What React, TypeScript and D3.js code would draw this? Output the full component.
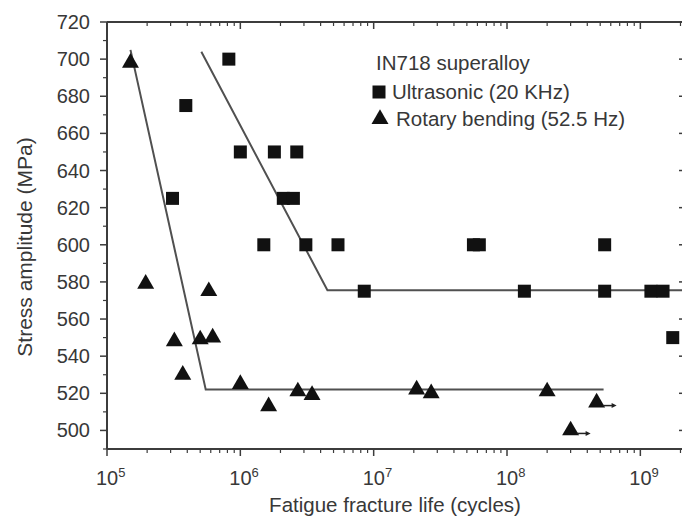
import React from "react";
import * as d3 from "d3";

// Ultrasonic fatigue tests (20 kHz): [cycles, stress MPa]
const ultrasonicCycles = [8.2e5, 3.9e5, 1.0e6, 1.8e6, 2.65e6, 3.1e5, 2.1e6, 2.5e6, 1.5e6, 3.1e6, 5.4e6, 5.6e7, 6.2e7, 5.4e8, 8.5e6, 1.35e8, 5.4e8, 1.2e9, 1.48e9, 2.3e9, 1.75e9];
const ultrasonicStress = [700, 675, 650, 650, 650, 625, 625, 625, 600, 600, 600, 600, 600, 600, 575, 575, 575, 575, 575, 575, 550];

// Rotary bending tests (52.5 Hz)
const rotaryCycles = [1.5e5, 1.95e5, 5.8e5, 3.2e5, 5.0e5, 6.2e5, 3.7e5, 1.0e6, 1.63e6, 2.7e6, 3.45e6, 2.1e7, 2.7e7, 2.0e8, 4.7e8, 3.0e8];
const rotaryStress = [698, 579, 575, 548, 549, 550, 530, 525, 513, 521, 519, 522, 520, 521, 515, 500];
// run-outs (specimens that did not fail) carry an arrow
const rotaryRunout = [false, false, false, false, false, false, false, false, false, false, false, false, false, false, true, true];

// Bilinear S-N fits
const ultrasonicFitCycles = [5.1e5, 4.5e6, 2.3e9];
const ultrasonicFitStress = [704, 575.5, 575.5];
const rotaryFitCycles = [1.5e5, 5.5e5, 5.3e8];
const rotaryFitStress = [705, 522, 522];

const yTicks = [500, 520, 540, 560, 580, 600, 620, 640, 660, 680, 700, 720];
const xDecades = [5, 6, 7, 8, 9];

const legendTitle = "IN718 superalloy";
const legendUltrasonic = "Ultrasonic (20 KHz)";
const legendRotary = "Rotary bending (52.5 Hz)";
const xTitle = "Fatigue fracture life (cycles)";
const yTitle = "Stress amplitude (MPa)";

const W = 682;
const H = 521;
const left = 107;
const right = 686;
const top = 22;
const bottom = 449;

const FONT = "Liberation Sans, Arial, Helvetica, sans-serif";
const TEXT = "#383838";
const AXIS = "#3c3c3c";

export default function App() {
  const x = d3.scaleLog().domain([1e5, 2.2e9]).range([left, right]);
  const y = d3.scaleLinear().domain([490, 720]).range([bottom, top]);

  const line = d3
    .line<[number, number]>()
    .x((d) => x(d[0]))
    .y((d) => y(d[1]));

  const ultrasonicFit = ultrasonicFitCycles.map((c, i) => [c, ultrasonicFitStress[i]] as [number, number]);
  const rotaryFit = rotaryFitCycles.map((c, i) => [c, rotaryFitStress[i]] as [number, number]);

  const tri = d3.symbol().type(d3.symbolTriangle).size(125)() as string;
  const sq = 13;

  // minor ticks on the log axis
  const minorX: number[] = [];
  for (let e = 5; e <= 9; e++) {
    for (let m = 2; m <= 9; m++) {
      const v = m * Math.pow(10, e);
      if (v <= 2.2e9) minorX.push(v);
    }
  }
  const minorY: number[] = [];
  for (let v = 490; v <= 720; v += 10) if (v % 20 !== 0) minorY.push(v);

  return (
    <div style={{ position: "fixed", left: 0, top: 0 }}>
      <svg width={W} height={H} style={{ display: "block", background: "#fff" }} fontFamily={FONT}>
        <defs>
          <clipPath id="frame">
            <rect x={0} y={0} width={W} height={H} />
          </clipPath>
        </defs>
        <g clipPath="url(#frame)">
          {/* frame */}
          <line x1={left} x2={right} y1={top} y2={top} stroke={AXIS} strokeWidth={2} />
          <line x1={left} x2={right} y1={bottom} y2={bottom} stroke={AXIS} strokeWidth={2} />
          <line x1={left} x2={left} y1={top} y2={bottom} stroke={AXIS} strokeWidth={2} />
          <line x1={right} x2={right} y1={top} y2={bottom} stroke={AXIS} strokeWidth={2} />

          {/* y ticks: outward on the left, inward on the right */}
          {yTicks.map((v) => (
            <g key={"yt" + v}>
              <line x1={left - 7} x2={left} y1={y(v)} y2={y(v)} stroke={AXIS} strokeWidth={1.5} />
              <line x1={right - 7} x2={right} y1={y(v)} y2={y(v)} stroke={AXIS} strokeWidth={1.5} />
              <text x={90} y={y(v) + 7} textAnchor="end" fontSize={20} fill={TEXT}>
                {v}
              </text>
            </g>
          ))}
          {minorY.map((v) => (
            <g key={"ym" + v}>
              <line x1={left - 4} x2={left} y1={y(v)} y2={y(v)} stroke={AXIS} strokeWidth={1.2} />
              <line x1={right - 4} x2={right} y1={y(v)} y2={y(v)} stroke={AXIS} strokeWidth={1.2} />
            </g>
          ))}

          {/* x ticks: outward at the bottom, inward at the top */}
          {xDecades.map((e) => {
            const px = x(Math.pow(10, e));
            return (
              <g key={"xt" + e}>
                <line x1={px} x2={px} y1={bottom} y2={bottom + 7} stroke={AXIS} strokeWidth={1.5} />
                <line x1={px} x2={px} y1={top} y2={top + 7} stroke={AXIS} strokeWidth={1.5} />
                <text x={px - 11} y={485} fontSize={20} fill={TEXT}>
                  10
                  <tspan dy={-8} fontSize={13}>
                    {e}
                  </tspan>
                </text>
              </g>
            );
          })}
          {minorX.map((v) => {
            const px = x(v);
            return (
              <g key={"xm" + v}>
                <line x1={px} x2={px} y1={bottom} y2={bottom + 4} stroke={AXIS} strokeWidth={1.2} />
                <line x1={px} x2={px} y1={top} y2={top + 4} stroke={AXIS} strokeWidth={1.2} />
              </g>
            );
          })}

          {/* fitted S-N lines */}
          <path d={line(ultrasonicFit) as string} fill="none" stroke="#505050" strokeWidth={2} />
          <path d={line(rotaryFit) as string} fill="none" stroke="#505050" strokeWidth={2} />

          {/* ultrasonic specimens */}
          {ultrasonicCycles.map((c, i) => (
            <rect
              key={"u" + i}
              x={x(c) - sq / 2}
              y={y(ultrasonicStress[i]) - sq / 2}
              width={sq}
              height={sq}
              fill="#111"
            />
          ))}

          {/* rotary bending specimens */}
          {rotaryCycles.map((c, i) => {
            const px = x(c);
            const py = y(rotaryStress[i]);
            return (
              <g key={"r" + i}>
                <path d={tri} transform={`translate(${px},${py})`} fill="#111" />
                {rotaryRunout[i] && (
                  <g>
                    <line x1={px + 6} x2={px + 17} y1={py + 3} y2={py + 3} stroke="#222" strokeWidth={1.5} />
                    <path d={`M${px + 20},${py + 3}L${px + 15},${py + 0.5}L${px + 15},${py + 5.5}Z`} fill="#222" />
                  </g>
                )}
              </g>
            );
          })}

          {/* legend */}
          <text x={376} y={70} fontSize={20.5} fill={TEXT}>
            {legendTitle}
          </text>
          <rect x={379 - sq / 2} y={92 - sq / 2} width={sq} height={sq} fill="#111" />
          <text x={392} y={99} fontSize={20.5} fill={TEXT}>
            {legendUltrasonic}
          </text>
          <path d={tri} transform="translate(380,119)" fill="#111" />
          <text x={396} y={126} fontSize={20.5} fill={TEXT}>
            {legendRotary}
          </text>

          {/* axis titles */}
          <text x={395} y={512} textAnchor="middle" fontSize={20.5} fill={TEXT}>
            {xTitle}
          </text>
          <text
            transform="translate(32,247) rotate(-90)"
            textAnchor="middle"
            fontSize={21}
            fill={TEXT}
          >
            {yTitle}
          </text>
        </g>
      </svg>
    </div>
  );
}
